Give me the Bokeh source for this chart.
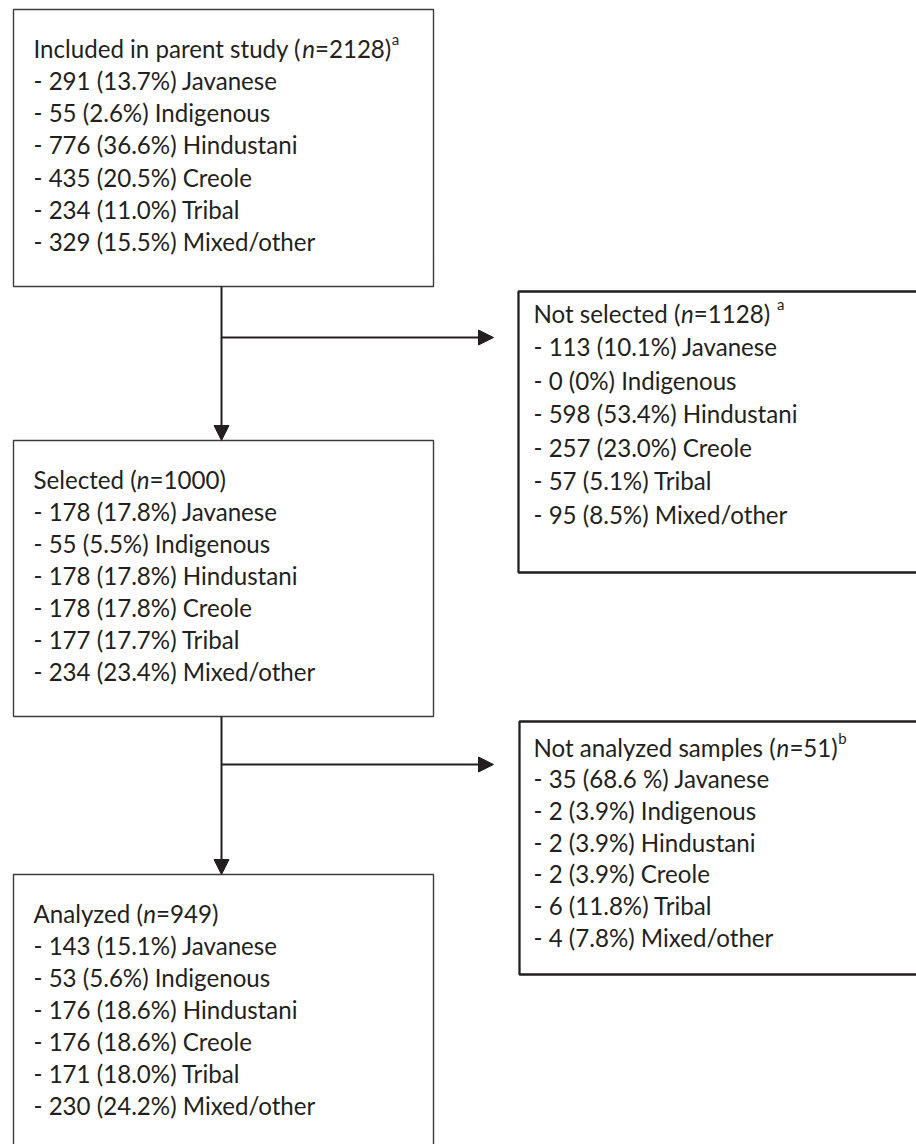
import struct, glob, os
from bokeh.plotting import figure
from bokeh.models import Range1d, ColumnDataSource, Arrow, NormalHead
from bokeh.core.properties import value
from bokeh.embed import file_html
from bokeh.resources import INLINE

# ---------------- data ----------------
groups = ["Javanese", "Indigenous", "Hindustani", "Creole", "Tribal", "Mixed/other"]

included_total = 2128
included_n = [291, 55, 776, 435, 234, 329]
included_pct = ["13.7%", "2.6%", "36.6%", "20.5%", "11.0%", "15.5%"]

not_selected_total = 1128
not_selected_n = [113, 0, 598, 257, 57, 95]
not_selected_pct = ["10.1%", "0%", "53.4%", "23.0%", "5.1%", "8.5%"]

selected_total = 1000
selected_n = [178, 55, 178, 178, 177, 234]
selected_pct = ["17.8%", "5.5%", "17.8%", "17.8%", "17.7%", "23.4%"]

not_analyzed_total = 51
not_analyzed_n = [35, 2, 2, 2, 6, 4]
not_analyzed_pct = ["68.6 %", "3.9%", "3.9%", "3.9%", "11.8%", "7.8%"]

analyzed_total = 949
analyzed_n = [143, 53, 176, 176, 171, 230]
analyzed_pct = ["15.1%", "5.6%", "18.6%", "18.6%", "18.0%", "24.2%"]

# ---------------- font metrics ----------------
FONT = "Lato"


def _parse_font(path):
    data = open(path, "rb").read()
    u16 = lambda o: struct.unpack(">H", data[o:o + 2])[0]
    off = 0
    if data[:4] == b"ttcf":
        off = struct.unpack(">I", data[12:16])[0]
    nt = u16(off + 4)
    tables = {}
    for i in range(nt):
        rec = off + 12 + 16 * i
        tag = data[rec:rec + 4].decode("latin1")
        _, toff, tlen = struct.unpack(">III", data[rec + 4:rec + 16])
        tables[tag] = toff
    upem = u16(tables["head"] + 18)
    nhm = u16(tables["hhea"] + 34)
    hoff = tables["hmtx"]
    adv = [u16(hoff + 4 * i) for i in range(nhm)]
    coff = tables["cmap"]
    n = u16(coff + 2)
    sub = None
    for i in range(n):
        pid, eid, soff = struct.unpack(">HHI", data[coff + 4 + 8 * i: coff + 12 + 8 * i])
        if u16(coff + soff) == 4 and pid in (0, 3):
            sub = coff + soff
            break
    segx2 = u16(sub + 6)
    seg = segx2 // 2
    ends = sub + 14
    starts = ends + segx2 + 2
    deltas = starts + segx2
    ranges = deltas + segx2

    def gid(c):
        for s in range(seg):
            end = u16(ends + 2 * s)
            if c <= end:
                start = u16(starts + 2 * s)
                if c < start:
                    return 0
                delta = u16(deltas + 2 * s)
                ro = u16(ranges + 2 * s)
                if ro == 0:
                    return (c + delta) & 0xFFFF
                g = u16(ranges + 2 * s + ro + 2 * (c - start))
                return (g + delta) & 0xFFFF if g else 0
        return 0

    cache = {}

    def width_em(s):
        w = 0
        for ch in s:
            if ch not in cache:
                g = gid(ord(ch))
                cache[ch] = adv[min(g, nhm - 1)] / upem
            w += cache[ch]
        return w

    return width_em


def _find(names):
    dirs = ["/usr/share/fonts", "/usr/local/share/fonts",
            os.path.expanduser("~/.fonts"), os.path.expanduser("~/.local/share/fonts")]
    for d in dirs:
        for nm in names:
            hits = glob.glob(os.path.join(d, "**", nm), recursive=True)
            if hits:
                try:
                    return _parse_font(hits[0])
                except Exception:
                    pass
    return lambda s: 0.5 * len(s)


w_reg = _find(["Lato-Regular.ttf"])
w_ital = _find(["Lato-Italic.ttf"])

FS = 284.0 / w_reg("- 230 (24.2%) Mixed/other")
SUP = FS * 0.62
INK = "#231f20"

# ---------------- layout ----------------
W, H = 916, 1144
p = figure(width=W, height=H, output_backend="svg", toolbar_location=None,
           x_range=Range1d(0, W), y_range=Range1d(H, 0),
           min_border=0)
p.axis.visible = False
p.grid.visible = False
p.outline_line_color = None
p.background_fill_color = "white"
p.border_fill_color = "white"

left_boxes = [(13, 9, 433, 286), (13, 440, 433, 716), (13, 874, 433, 1200)]
right_boxes = [(518, 291, 940, 572), (519, 721, 940, 974)]

p.quad(left=[b[0] for b in left_boxes], right=[b[2] for b in left_boxes],
       top=[b[1] for b in left_boxes], bottom=[b[3] for b in left_boxes],
       fill_color=None, line_color="#3c3c3c", line_width=1.4)
p.quad(left=[b[0] for b in right_boxes], right=[b[2] for b in right_boxes],
       top=[b[1] for b in right_boxes], bottom=[b[3] for b in right_boxes],
       fill_color=None, line_color=INK, line_width=2.3)

# arrows
VX = 221
for (y0, y1) in [(286, 440), (716, 874)]:
    p.add_layout(Arrow(end=NormalHead(size=15, fill_color=INK, line_color=INK, line_width=1),
                       x_start=VX, y_start=y0, x_end=VX, y_end=y1,
                       line_color=INK, line_width=2))
for yh in [337, 764]:
    p.add_layout(Arrow(end=NormalHead(size=15, fill_color=INK, line_color=INK, line_width=1),
                       x_start=VX, y_start=yh, x_end=493, y_end=yh,
                       line_color=INK, line_width=2))

# ---------------- texts ----------------
seg = dict(x=[], y=[], text=[], style=[], size=[])


def add(x, y, t, style="normal", size=None):
    seg["x"].append(x)
    seg["y"].append(y)
    seg["text"].append(t)
    seg["style"].append(style)
    seg["size"].append("%.2fpx" % (size or FS))


def header(x, y, label, total, sup=None, sup_gap=""):
    a = label + " ("
    add(x, y, a)
    x += w_reg(a) * FS
    add(x, y, "n", "italic")
    x += w_ital("n") * FS
    b = "=%d)" % total + sup_gap
    add(x, y, b)
    x += w_reg(b) * FS
    if sup:
        add(x + 0.5, y - FS * 0.36, sup, "normal", SUP)


def box_text(x, first_baseline, spacing, label, total, ns, pcts, sup=None, sup_gap=""):
    header(x, first_baseline, label, total, sup, sup_gap)
    for i, (n, pc, g) in enumerate(zip(ns, pcts, groups)):
        add(x, first_baseline + (i + 1) * spacing, "- %d (%s) %s" % (n, pc, g))


CAP = 7.5
box_text(33, 40 + CAP, 32.3, "Included in parent study", included_total,
         included_n, included_pct, sup="a")
box_text(33, 471 + CAP, 32.0, "Selected", selected_total, selected_n, selected_pct)
box_text(33, 905 + CAP, 32.0, "Analyzed", analyzed_total, analyzed_n, analyzed_pct)
box_text(533, 305 + CAP, 33.5, "Not selected", not_selected_total,
         not_selected_n, not_selected_pct, sup="a", sup_gap=" ")
box_text(533, 739 + CAP, 31.7, "Not analyzed samples", not_analyzed_total,
         not_analyzed_n, not_analyzed_pct, sup="b")

src = ColumnDataSource(seg)
p.text(x="x", y="y", text="text", source=src, text_font=value(FONT),
       text_font_style="style", text_font_size="size", text_color=INK,
       text_align="left", text_baseline="alphabetic")

open("out.html", "w").write(file_html(p, INLINE))
